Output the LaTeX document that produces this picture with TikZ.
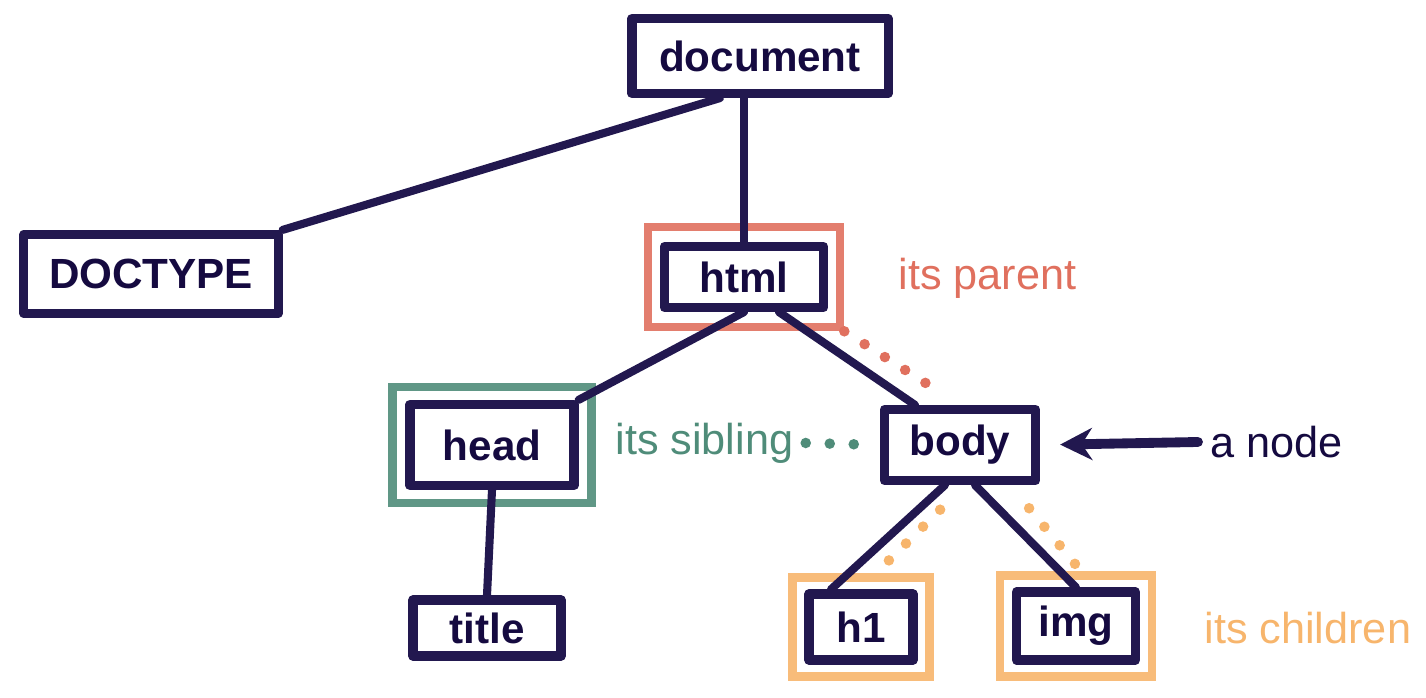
\documentclass[tikz,border=0pt]{standalone}
\usepackage{fontspec}
\setmainfont{Liberation Sans}
\usetikzlibrary{arrows.meta,fit}
\definecolor{ink}{HTML}{22184F}
\definecolor{inktext}{HTML}{150A40}
\definecolor{parentred}{HTML}{E0705E}
\definecolor{siblinggreen}{HTML}{4F8C79}
\definecolor{childorange}{HTML}{F7B56C}
\begin{document}
\begin{tikzpicture}[x=0.01cm, y=-0.01cm,
  domnode/.style={draw=ink, line width=2.6pt, line join=round, text=inktext,
    font=\fontsize{12}{14}\selectfont\bfseries, inner sep=0pt},
  edge/.style={draw=ink, line width=2.3pt, line cap=round},
  mark box/.style={draw=#1, line width=2.4pt, inner sep=0.12cm, opacity=0.9},
  note/.style={font=\fontsize{12.3}{14}\selectfont, text=#1, anchor=west},
  dots/.style={draw=#1, line width=3pt, line cap=round, dash pattern=on 0pt off 0.24cm}]
\useasboundingbox (0,0) rectangle (1426,698);
\node (document)[domnode, minimum width=2.56cm, minimum height=0.75cm] at (760, 56) {document};
\node (doctype)[domnode, minimum width=2.54cm, minimum height=0.79cm] at (151, 274) {DOCTYPE};
\node (html)[domnode, minimum width=1.59cm, minimum height=0.61cm] at (744, 277) {html};
\node (head)[domnode, minimum width=1.64cm, minimum height=0.81cm] at (492, 445) {head};
\node (body)[domnode, minimum width=1.51cm, minimum height=0.71cm] at (960, 445) {body};
\node (title)[domnode, minimum width=1.48cm, minimum height=0.56cm] at (487, 628) {title};
\node (h1)[domnode, minimum width=1.04cm, minimum height=0.66cm] at (861, 627) {h1};
\node (img)[domnode, minimum width=1.19cm, minimum height=0.68cm] at (1076, 626) {img};
% highlight boxes
\node (parentbox)[mark box=parentred, fit=(html), inner ysep=0.15cm] {};
\node (siblingbox)[mark box=siblinggreen, fit=(head), inner sep=0.13cm] {};
\node (h1box)[mark box=childorange, fit=(h1)] {};
\node (imgbox)[mark box=childorange, fit=(img)] {};
% labels
\node (parentlabel)[note=parentred] at (886, 278) {its parent};
\node (siblinglabel)[note=siblinggreen] at (603, 443) {its sibling};
\node (nodelabel)[note=inktext] at (1198, 442) {a node};
\node (childlabel)[note=childorange] at (1192, 628) {its children};
% tree edges
\draw[edge] (html.north |- document.south) -- (html.north);
\draw[edge] ([xshift=-0.4cm]document.south) -- (doctype.north east);
\draw[edge] (html.south) -- (head.north east);
\draw[edge] ([xshift=0.35cm]html.south) -- ([xshift=-0.45cm]body.north);
\draw[edge] (head.south) -- (title.north);
\draw[edge] ([xshift=-0.15cm]body.south) -- ([xshift=-0.3cm]h1.north);
\draw[edge] ([xshift=0.15cm]body.south) -- (img.north);
\draw[edge, line width=2.8pt, -{Stealth[length=0.32cm, width=0.32cm]}, shorten >=0.2cm] (nodelabel.west) -- (body.east);
% relation dots
\draw[dots=parentred, shorten >=0.2cm] (parentbox.south east) -- (body.north);
\draw[dots=siblinggreen, shorten >=0.2cm] (siblinglabel.east) -- (body.west);
\draw[dots=childorange, shorten <=0.35cm, shorten >=0.08cm] ([xshift=0.05cm]body.south) -- ([xshift=0.15cm]h1box.north);
\draw[dots=childorange, shorten <=0.3cm, shorten >=0.08cm] ([xshift=0.5cm]body.south) -- ([xshift=0.05cm]imgbox.north);
\end{tikzpicture}
\end{document}
